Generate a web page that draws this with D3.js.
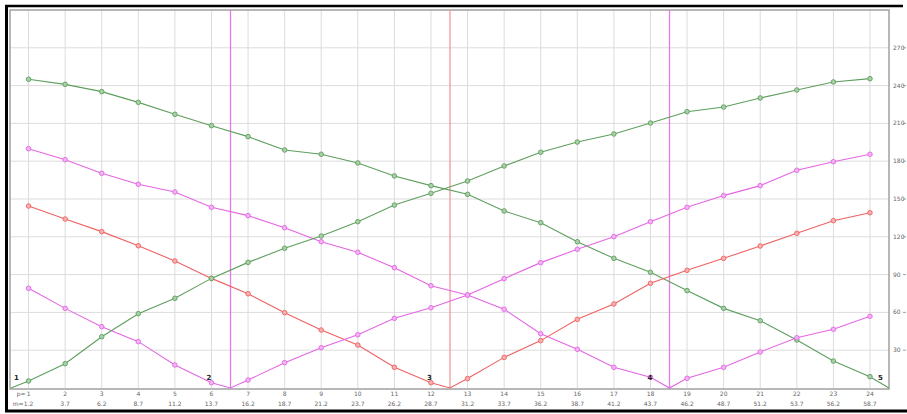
<!DOCTYPE html>
<html><head><meta charset="utf-8">
<script src="https://cdn.jsdelivr.net/npm/d3@7"></script>
<style>body{margin:0;background:#fff}svg{display:block}</style>
</head><body><svg id="c" width="907" height="414"></svg>
<script>
const pTicks = ["1","2","3","4","5","6","7","8","9","10","11","12","13","14","15","16","17","18","19","20","21","22","23","24"];
const mValues = [1.2,3.7,6.2,8.7,11.2,13.7,16.2,18.7,21.2,23.7,26.2,28.7,31.2,33.7,36.2,38.7,41.2,43.7,46.2,48.7,51.2,53.7,56.2,58.7];
const mTicks = ["1.2","3.7","6.2","8.7","11.2","13.7","16.2","18.7","21.2","23.7","26.2","28.7","31.2","33.7","36.2","38.7","41.2","43.7","46.2","48.7","51.2","53.7","56.2","58.7"];
const yTicks = [30,60,90,120,150,180,210,240,270];
const g1 = [245.0,241.0,235.2,226.7,217.2,208.2,199.5,188.9,185.5,178.6,168.3,160.6,153.7,140.5,131.2,116.1,102.9,91.8,77.3,63.2,53.4,38.1,21.4,9.0];
const m1 = [189.9,181.2,170.4,161.7,155.6,143.4,136.8,127.2,116.1,107.7,95.5,81.2,73.8,62.5,43.1,30.7,16.4,8.5,7.7,16.4,28.6,39.9,46.6,56.9];
const r1 = [144.4,134.1,124.1,112.9,100.8,87.0,74.8,59.8,46.0,34.1,16.4,4.2,7.5,24.3,37.6,54.5,66.7,83.1,93.4,102.9,112.7,122.8,132.8,139.1];
const m2 = [79.1,63.2,48.7,36.8,18.3,4.2,6.3,20.1,32.0,42.3,55.3,63.7,73.8,86.8,99.5,110.1,120.1,132.0,143.4,152.7,160.6,172.8,179.6,185.5];
const g2 = [5.6,19.3,40.7,59.0,71.2,87.0,99.7,110.9,120.6,132.0,145.2,154.5,164.3,176.2,187.1,195.2,201.6,210.3,219.3,223.0,230.2,236.5,242.9,245.5];
const zeroM = [60,45,30,15,0];          // zero-point of each series
const vLines = [15,30,45];
const vLineColors = ["#e07be8","#f29a9a","#e07be8"];
const pointLabels = ["1","2","3","4","5"];
const labelM = [0,15,30,45,60];

const seriesList = [
  {vals:g1, zero:zeroM[0], color:"#5e9f5e", fill:"#a9cfa9"},
  {vals:m1, zero:zeroM[1], color:"#e466e4", fill:"#f1b3f1"},
  {vals:r1, zero:zeroM[2], color:"#ee6262", fill:"#f7b0b0"},
  {vals:m2, zero:zeroM[3], color:"#e466e4", fill:"#f1b3f1"},
  {vals:g2, zero:zeroM[4], color:"#5e9f5e", fill:"#a9cfa9"}
];

const svg = d3.select("#c");
const L=11, R=889, T=10, B=388;
const x = d3.scaleLinear().domain([0,60]).range([L,R]);
const y = d3.scaleLinear().domain([0,300]).range([B,T]);

// black frame
svg.append("line").attr("x1",6.5).attr("x2",6.5).attr("y1",5).attr("y2",412).attr("stroke","#000").attr("stroke-width",3);
svg.append("line").attr("x1",5).attr("x2",903).attr("y1",6).attr("y2",6).attr("stroke","#000").attr("stroke-width",2.5);
svg.append("line").attr("x1",5).attr("x2",907).attr("y1",411).attr("y2",411).attr("stroke","#000").attr("stroke-width",3);

// grid
const grid = svg.append("g");
grid.selectAll("line.v").data(mValues).join("line")
  .attr("x1",d=>x(d)).attr("x2",d=>x(d)).attr("y1",T).attr("y2",B)
  .attr("stroke","#dcdcdc").attr("stroke-width",1);
grid.selectAll("line.h").data(yTicks).join("line").attr("class","h")
  .attr("x1",L).attr("x2",R).attr("y1",d=>y(d)).attr("y2",d=>y(d))
  .attr("stroke","#dcdcdc").attr("stroke-width",1);

// plot border
svg.append("rect").attr("x",L-1).attr("y",T).attr("width",R-L+1).attr("height",B-T+1)
  .attr("fill","none").attr("stroke","#a0a0a0").attr("stroke-width",1.5);

// vertical marker lines
svg.selectAll("line.vl").data(vLines).join("line")
  .attr("x1",d=>x(d)).attr("x2",d=>x(d)).attr("y1",T).attr("y2",B)
  .attr("stroke",(d,i)=>vLineColors[i]).attr("stroke-width",1.3);

// series
const line = d3.line().x(d=>x(d[0])).y(d=>y(d[1]));
seriesList.forEach(s=>{
  const pts = mValues.map((m,i)=>[m,s.vals[i]]);
  pts.push([s.zero,0]);
  pts.sort((a,b)=>a[0]-b[0]);
  svg.append("path").attr("d",line(pts)).attr("fill","none")
    .attr("stroke",s.color).attr("stroke-width",1.1);
  svg.append("g").selectAll("circle").data(mValues).join("circle")
    .attr("cx",d=>x(d)).attr("cy",(d,i)=>y(s.vals[i])).attr("r",2.3)
    .attr("fill",s.fill).attr("stroke",s.color).attr("stroke-width",0.9);
});

// point labels
const labOff = [3,-24,-23,-22,-11];
svg.selectAll("text.pl").data(pointLabels).join("text")
  .attr("x",(d,i)=>x(labelM[i])+labOff[i]).attr("y",y(0)-8)
  .attr("font-family","DejaVu Sans, sans-serif").attr("font-size",7).attr("font-weight","bold")
  .attr("fill","#222").text(d=>d);

// x tick labels
const xl = svg.append("g").attr("font-family","DejaVu Sans, sans-serif").attr("font-size",6).attr("fill","#666");
xl.selectAll("text.p").data(pTicks).join("text")
  .attr("x",(d,i)=>x(mValues[i])).attr("y",396).attr("text-anchor","middle").text(d=>d);
xl.selectAll("text.m").data(mTicks).join("text")
  .attr("x",(d,i)=>x(mValues[i])).attr("y",406).attr("text-anchor","middle").text(d=>d);
xl.append("text").attr("x",x(mValues[0])-3).attr("y",396).attr("text-anchor","end").text("p=");
xl.append("text").attr("x",x(mValues[0])-5).attr("y",406).attr("text-anchor","end").text("m=");

// y tick labels (right)
const yl = svg.append("g").attr("font-family","DejaVu Sans, sans-serif").attr("font-size",6).attr("fill","#666");
yl.selectAll("text").data(yTicks).join("text")
  .attr("x",893).attr("y",d=>y(d)+2).text(d=>d);
yl.selectAll("line").data(yTicks).join("line")
  .attr("x1",903).attr("x2",906).attr("y1",d=>y(d)).attr("y2",d=>y(d))
  .attr("stroke","#888").attr("stroke-width",0.8);
</script></body></html>
